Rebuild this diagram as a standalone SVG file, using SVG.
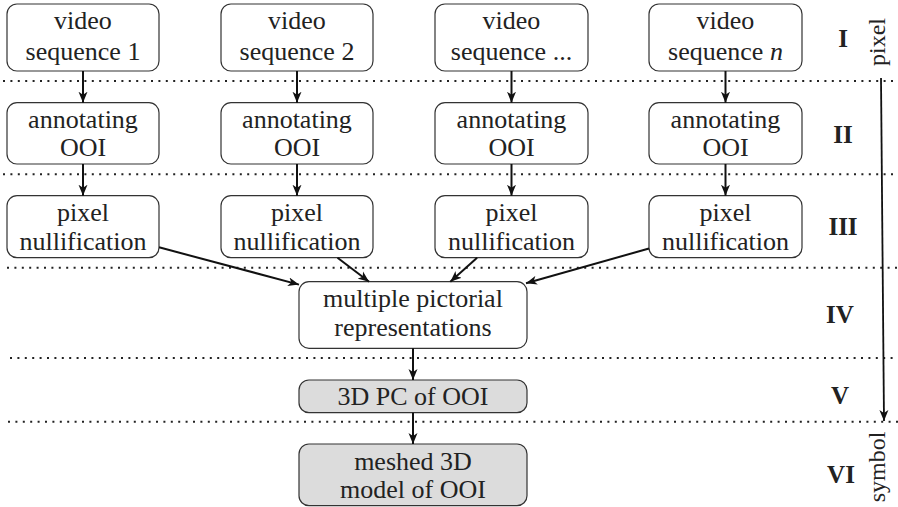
<svg xmlns="http://www.w3.org/2000/svg" width="898" height="507" viewBox="0 0 898 507" font-family="Liberation Serif, serif">
<style>
.box{fill:#fff;stroke:#333;stroke-width:1.2}
.gray{fill:#dcdcdc}
.t{font-family:"Liberation Serif",serif;font-size:26px;fill:#222;text-anchor:middle}
.r{font-family:"Liberation Serif",serif;font-size:25px;font-weight:bold;fill:#222;text-anchor:middle}
.s{font-family:"Liberation Serif",serif;font-size:24px;fill:#222;text-anchor:middle}
.dot{stroke:#222;stroke-width:2;stroke-dasharray:2 5.4;fill:none}
.ar{stroke:#111;stroke-width:2;fill:none;marker-end:url(#ah)}
</style>
<defs>
<marker id="ah" markerUnits="userSpaceOnUse" markerWidth="12" markerHeight="10" refX="11" refY="5" orient="auto">
<path d="M0,0.5 L11,5 L0,9.5 L3,5 z" fill="#111"/>
</marker>
</defs>
<rect width="898" height="507" fill="#fff"/>
<g id="separators">
<line class="dot" x1="3" y1="81" x2="898" y2="81"/>
<line class="dot" x1="3" y1="174.3" x2="898" y2="174.3"/>
<line class="dot" x1="7" y1="267.7" x2="898" y2="267.7"/>
<line class="dot" x1="10" y1="358" x2="898" y2="358"/>
<line class="dot" x1="8" y1="421.7" x2="898" y2="421.7"/>
</g>
<g id="v1"><rect class="box" x="7" y="4" width="152" height="67" rx="10"/><text class="t" x="83" y="29">video</text><text class="t" x="83" y="60">sequence 1</text></g>
<g id="v2"><rect class="box" x="221" y="4" width="152" height="67" rx="10"/><text class="t" x="297" y="29">video</text><text class="t" x="297" y="60">sequence 2</text></g>
<g id="v3"><rect class="box" x="435" y="4" width="153" height="67" rx="10"/><text class="t" x="511.5" y="29">video</text><text class="t" x="511.5" y="60">sequence ...</text></g>
<g id="v4"><rect class="box" x="649" y="4" width="153" height="67" rx="10"/><text class="t" x="725.5" y="29">video</text><text class="t" x="725.5" y="60">sequence <tspan font-style="italic">n</tspan></text></g>
<g id="a1"><rect class="box" x="7" y="102.7" width="152" height="61.3" rx="10"/><text class="t" x="83" y="128">annotating</text><text class="t" x="83" y="156">OOI</text></g>
<g id="a2"><rect class="box" x="221" y="102.7" width="152" height="61.3" rx="10"/><text class="t" x="297" y="128">annotating</text><text class="t" x="297" y="156">OOI</text></g>
<g id="a3"><rect class="box" x="435" y="102.7" width="153" height="61.3" rx="10"/><text class="t" x="511.5" y="128">annotating</text><text class="t" x="511.5" y="156">OOI</text></g>
<g id="a4"><rect class="box" x="649" y="102.7" width="153" height="61.3" rx="10"/><text class="t" x="725.5" y="128">annotating</text><text class="t" x="725.5" y="156">OOI</text></g>
<g id="p1"><rect class="box" x="7" y="195.7" width="152" height="62" rx="10"/><text class="t" x="83" y="221">pixel</text><text class="t" x="83" y="250">nullification</text></g>
<g id="p2"><rect class="box" x="221" y="195.7" width="152" height="62" rx="10"/><text class="t" x="297" y="221">pixel</text><text class="t" x="297" y="250">nullification</text></g>
<g id="p3"><rect class="box" x="435" y="195.7" width="153" height="62" rx="10"/><text class="t" x="511.5" y="221">pixel</text><text class="t" x="511.5" y="250">nullification</text></g>
<g id="p4"><rect class="box" x="649" y="195.7" width="153" height="62" rx="10"/><text class="t" x="725.5" y="221">pixel</text><text class="t" x="725.5" y="250">nullification</text></g>
<g id="mpr"><rect class="box" x="299" y="281.7" width="228" height="66.6" rx="10"/><text class="t" x="413" y="306.7">multiple pictorial</text><text class="t" x="413" y="335.7">representations</text></g>
<g id="pc"><rect class="box gray" x="299" y="380" width="228" height="32.7" rx="10"/><text class="t" x="413" y="405">3D PC of OOI</text></g>
<g id="mesh"><rect class="box gray" x="299" y="444" width="228" height="61.7" rx="10"/><text class="t" x="413" y="470">meshed 3D</text><text class="t" x="413" y="497.7">model of OOI</text></g>
<g id="connectors">
<line class="ar" x1="83" y1="71" x2="83" y2="102.7"/>
<line class="ar" x1="297" y1="71" x2="297" y2="102.7"/>
<line class="ar" x1="511.5" y1="71" x2="511.5" y2="102.7"/>
<line class="ar" x1="725.5" y1="71" x2="725.5" y2="102.7"/>
<line class="ar" x1="83" y1="164" x2="83" y2="195.7"/>
<line class="ar" x1="297" y1="164" x2="297" y2="195.7"/>
<line class="ar" x1="511.5" y1="164" x2="511.5" y2="195.7"/>
<line class="ar" x1="725.5" y1="164" x2="725.5" y2="195.7"/>
<line class="ar" x1="159" y1="247.3" x2="299" y2="284.6"/>
<line class="ar" x1="337.5" y1="257.7" x2="369.1" y2="281.7"/>
<line class="ar" x1="477.1" y1="257.7" x2="450.3" y2="281.7"/>
<line class="ar" x1="649" y1="248.5" x2="526" y2="283.2"/>
<line class="ar" x1="413" y1="348.3" x2="413" y2="380"/>
<line class="ar" x1="413" y1="412.7" x2="413" y2="444"/>
<line class="ar" style="stroke-width:1.8" x1="881" y1="78" x2="884" y2="421"/>
</g>
<g id="levels">
<text class="r" x="843" y="46.5">I</text>
<text class="r" x="843" y="142.5">II</text>
<text class="r" x="843" y="235">III</text>
<text class="r" x="840" y="323">IV</text>
<text class="r" x="840" y="404">V</text>
<text class="r" x="841" y="483">VI</text>
<text class="s" transform="translate(885,42) rotate(-90)">pixel</text>
<text class="s" transform="translate(885,467) rotate(-90)">symbol</text>
</g>
</svg>
